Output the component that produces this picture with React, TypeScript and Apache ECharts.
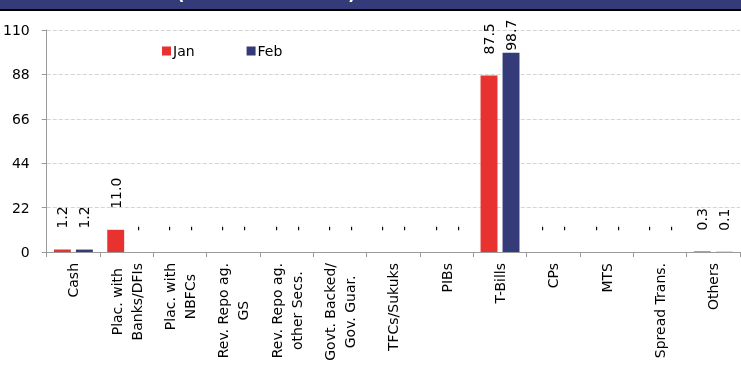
import React, { useEffect, useRef } from "react";
import * as echarts from "echarts";

const categories = [
  "Cash",
  "Plac. with\nBanks/DFIs",
  "Plac. with\nNBFCs",
  "Rev. Repo ag.\nGS",
  "Rev. Repo ag.\nother Secs.",
  "Govt. Backed/\nGov. Guar.",
  "TFCs/Sukuks",
  "PIBs",
  "T-Bills",
  "CPs",
  "MTS",
  "Spread Trans.",
  "Others",
];
const janValues = [1.2, 11.0, 0, 0, 0, 0, 0, 0, 87.5, 0, 0, 0, 0.3];
const febValues = [1.2, 0, 0, 0, 0, 0, 0, 0, 98.7, 0, 0, 0, 0.1];
const seriesNames = ["Jan", "Feb"];
const yMin = 0;
const yMax = 110;
const yInterval = 22;
const titleText = "Asset Allocation (% of Total Assets)";

const RED = "#e8322f";
const NAVY = "#343b78";
const FONT = "DejaVu Sans";

// labels of bars that reach near the top are pulled down to stay inside the chart
const toData = (vals: number[]) =>
  vals.map((v) => (v > 95 ? { value: v, label: { distance: 2 } } : v));

export default function App() {
  const ref = useRef<HTMLDivElement>(null);
  useEffect(() => {
    document.body.style.margin = "0";
    if (!ref.current) return;
    const chart = echarts.init(ref.current, null, { renderer: "svg" });
    const labelCfg = {
      show: true,
      position: "top",
      rotate: 90,
      align: "left",
      verticalAlign: "middle",
      distance: 21,
      color: "#000",
      fontSize: 14,
      fontFamily: FONT,
      formatter: (p: any) => (p.value === 0 ? "-" : Number(p.value).toFixed(1)),
    };
    chart.setOption({
      animation: false,
      textStyle: { fontFamily: FONT },
      grid: { left: 45, right: 1, top: 30, bottom: 115, containLabel: false },
      legend: {
        left: 162,
        top: 44,
        padding: 0,
        itemWidth: 9,
        itemHeight: 9,
        itemGap: 52,
        icon: "rect",
        textStyle: { fontSize: 14, color: "#000", fontFamily: FONT, padding: [0, 0, 0, -3] },
        data: seriesNames,
      },
      xAxis: {
        type: "category",
        data: categories,
        axisLine: { lineStyle: { color: "#9a9a9a", width: 1 } },
        axisTick: { show: true, length: 5, lineStyle: { color: "#9a9a9a" } },
        axisLabel: {
          interval: 0,
          rotate: 90,
          margin: 11,
          color: "#000",
          fontSize: 14,
          fontFamily: FONT,
          lineHeight: 20,
          formatter: (v: string) =>
            v
              .split("\n")
              .map((l) => "{c|" + l + "}")
              .join("\n"),
          rich: { c: { align: "center", fontSize: 14, fontFamily: FONT, color: "#000", lineHeight: 20 } },
        },
      },
      yAxis: {
        type: "value",
        min: yMin,
        max: yMax,
        interval: yInterval,
        axisLine: { show: true, lineStyle: { color: "#9a9a9a" } },
        axisTick: { show: true, length: 5, lineStyle: { color: "#9a9a9a" } },
        axisLabel: { color: "#000", fontSize: 14, fontFamily: FONT, margin: 17 },
        splitLine: { lineStyle: { color: "#d4d4d4", type: [4, 2] } },
      },
      series: [
        {
          name: seriesNames[0],
          type: "bar",
          data: toData(janValues),
          itemStyle: { color: RED },
          barGap: "30%",
          barCategoryGap: "27%",
          label: labelCfg,
        },
        {
          name: seriesNames[1],
          type: "bar",
          data: toData(febValues),
          itemStyle: { color: NAVY },
          barGap: "30%",
          barCategoryGap: "27%",
          label: labelCfg,
        },
      ],
      graphic: [
        { type: "rect", shape: { x: 0, y: 0, width: 741, height: 10 }, style: { fill: NAVY }, z: 10 },
        {
          type: "text",
          x: 16,
          y: -6,
          z: 11,
          style: {
            text: titleText,
            fill: "#fff",
            font: "bold 17px " + FONT,
            verticalAlign: "middle",
            align: "left",
          },
        },
        { type: "rect", shape: { x: 0, y: 9, width: 741, height: 2 }, style: { fill: "#000" }, z: 12 },
      ],
    });
    return () => chart.dispose();
  }, []);
  return <div ref={ref} style={{ position: "fixed", left: 0, top: 0, width: 741, height: 367 }} />;
}
